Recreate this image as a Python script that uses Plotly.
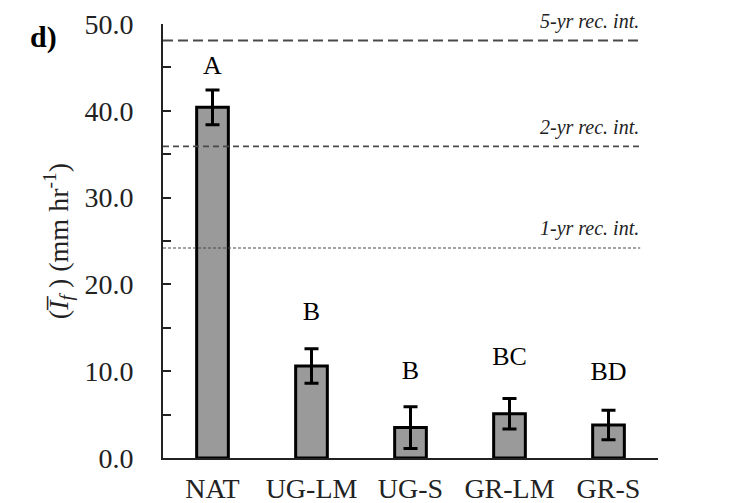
import plotly.graph_objects as go

categories = ["NAT", "UG-LM", "UG-S", "GR-LM", "GR-S"]
means = [40.4, 10.6, 3.5, 5.1, 3.8]
errors = [2.0, 2.0, 2.4, 1.75, 1.7]
group_letters = ["A", "B", "B", "BC", "BD"]
letter_y = [45.0, 16.7, 9.8, 11.5, 9.7]

rec_labels = ["5-yr rec. int.", "2-yr rec. int.", "1-yr rec. int."]
rec_values = [48.1, 35.9, 24.2]
rec_dash = ["10px,5px", "6px,4px", "3px,2px"]
rec_width = [2, 1.6, 1.1]

FONT = "Liberation Serif"

fig = go.Figure()
fig.add_trace(go.Bar(
    x=categories, y=means, width=0.32,
    marker=dict(color="#9a9a9a", line=dict(color="black", width=3)),
    error_y=dict(type="data", array=errors, visible=True,
                 color="black", thickness=3, width=7),
    showlegend=False, hoverinfo="skip",
))
fig.add_trace(go.Scatter(
    x=categories, y=letter_y, mode="text", text=group_letters,
    textfont=dict(family=FONT, size=26, color="black"),
    textposition="middle center", showlegend=False, hoverinfo="skip",
))

for lab, val, dash, w in zip(rec_labels, rec_values, rec_dash, rec_width):
    fig.add_shape(type="line", xref="paper", yref="y", x0=0, x1=0.964,
                  y0=val, y1=val, line=dict(color="#4a4a4a", width=w, dash=dash))
    fig.add_annotation(xref="paper", yref="y", x=0.966, y=val, text=lab,
                       showarrow=False, xanchor="right", yanchor="middle", yshift=19,
                       font=dict(family=FONT, size=20, color="#222", style="italic"))

fig.add_annotation(xref="paper", yref="paper", x=-0.242, y=0.97, text="<b>d)</b>",
                   showarrow=False, xanchor="center", yanchor="middle",
                   font=dict(family=FONT, size=30, color="black"))

fig.update_layout(
    width=735, height=503,
    margin=dict(l=155, r=85, t=16, b=53),
    plot_bgcolor="white", paper_bgcolor="white",
    font=dict(family=FONT, color="#222"),
)
fig.update_xaxes(
    range=[-0.5, 4.5], showline=True, linecolor="#222", linewidth=2,
    ticks="", tickfont=dict(family=FONT, size=28, color="#222"),
    ticklabelstandoff=4, automargin=False,
    showgrid=False, zeroline=False,
)
fig.update_yaxes(
    range=[0, 50], tickvals=[0, 10, 20, 30, 40, 50], tickformat=".1f",
    ticks="inside", ticklen=8, tickwidth=2, tickcolor="#222",
    minor=dict(tickvals=[5, 15, 25, 35, 45], ticks="inside", ticklen=8,
               tickwidth=2, tickcolor="#222"),
    showline=True, linecolor="#222", linewidth=2,
    tickfont=dict(family=FONT, size=28, color="#222"),
    ticklabelstandoff=22, automargin=False,
    showgrid=False, zeroline=False,
    title=dict(text="(<i>I\u0305</i><sub><i>f</i></sub> ) (mm hr<sup>-1</sup>)",
               font=dict(family=FONT, size=28, color="#222"), standoff=8),
)

fig.write_html("out.html")
